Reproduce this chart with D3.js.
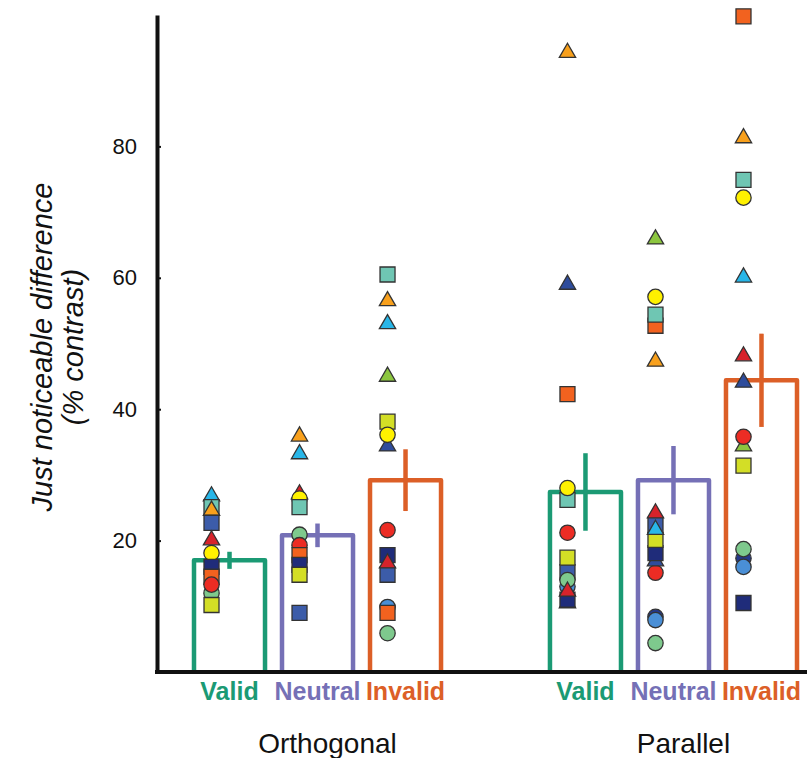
<!DOCTYPE html>
<meta charset="utf-8">
<style>
body {
  margin: 0;
  background: #fff;
  font-family: "Liberation Sans", Arial, sans-serif;
}
.axis text {
  font-size: 22px;
  fill: #111;
}
.ylabel {
  font-size: 29px;
  font-style: italic;
  fill: #111;
}
.cond {
  font-size: 25px;
  font-weight: bold;
}
.group {
  font-size: 28px;
  fill: #111;
}
</style>
<body></body>
<script src="https://d3js.org/d3.v7.min.js"></script>
<script>
var groups = ["Orthogonal", "Parallel"];
var conditions = ["Valid", "Neutral", "Invalid"];
var yTicks = [20, 40, 60, 80];

// bar heights and error (+/-), order: Orthogonal V N I, Parallel V N I
var means = [17.0, 20.8, 29.2, 27.4, 29.2, 44.4];
var errors = [1.3, 1.8, 4.7, 5.9, 5.2, 7.1];

// observers: T = triangle, S = square, C = circle
var orthValid = [["T1", 27.0], ["S1", 25.1], ["T2", 24.8], ["S2", 22.7], ["T3", 20.3],
  ["C1", 18.1], ["S3", 16.0], ["C3", 12.0], ["S4", 14.5], ["C2", 13.3], ["S5", 10.2]];
var orthNeutral = [["T2", 36.1], ["T1", 33.4], ["T3", 27.3], ["C1", 26.4], ["S1", 25.1],
  ["C3", 20.9], ["C2", 19.3], ["S4", 17.8], ["S3", 16.3], ["S5", 14.8], ["S2", 9.0]];
var orthInvalid = [["S1", 60.5], ["T2", 56.7], ["T1", 53.2], ["T5", 45.2], ["T4", 34.6],
  ["S5", 38.1], ["C1", 36.1], ["C2", 21.6], ["S2", 14.8], ["S3", 17.8], ["T3", 16.8],
  ["C4", 9.9], ["S4", 9.0], ["C3", 5.9]];
var parValid = [["T2", 94.5], ["T4", 59.2], ["S4", 42.3], ["S1", 26.2], ["C1", 28.0],
  ["C2", 21.2], ["T5", 10.7], ["S3", 11.0], ["C4", 13.0], ["S2", 15.2], ["C3", 14.0],
  ["S5", 17.4], ["T3", 12.5]];
var parNeutral = [["T5", 66.1], ["C1", 57.1], ["S4", 52.7], ["S1", 54.4], ["T2", 47.5],
  ["C2", 15.1], ["T4", 17.1], ["S3", 18.1], ["S5", 20.1], ["S2", 22.4], ["T1", 21.9],
  ["T3", 24.4], ["C3", 4.4], ["C5", 8.4], ["C4", 7.9]];
var parInvalid = [["S4", 99.8], ["T2", 81.5], ["C1", 72.2], ["S1", 74.9], ["T1", 60.3],
  ["T3", 48.3], ["T4", 44.3], ["T5", 34.6], ["C2", 35.8], ["S5", 31.4], ["C5", 17.3],
  ["C4", 16.0], ["C3", 18.7], ["S3", 10.5]];

var points = [orthValid, orthNeutral, orthInvalid, parValid, parNeutral, parInvalid];

var barColor = { Valid: "#1b9a74", Neutral: "#7570b6", Invalid: "#dc5f27" };

var observerStyle = {
  T1: ["triangle", "#28b6e8"], T2: ["triangle", "#f8a01c"], T3: ["triangle", "#d7232b"],
  T4: ["triangle", "#2e4c9c"], T5: ["triangle", "#8cc63f"],
  S1: ["square", "#6fc6b3"], S2: ["square", "#3c5ca9"], S3: ["square", "#1f2c7a"],
  S4: ["square", "#f2621f"], S5: ["square", "#d3de26"],
  C1: ["circle", "#fff100"], C2: ["circle", "#ec2c24"], C3: ["circle", "#7ec98d"],
  C4: ["circle", "#4a8fd6"], C5: ["circle", "#24388a"]
};

var width = 807, height = 758;

var svg = d3.select("body")
  .append("svg")
    .attr("width", width)
    .attr("height", height);

var y = d3.scaleLinear()
  .domain([0, 100])
  .range([672, 15]);

var xGroup = d3.scaleBand()
  .domain(groups)
  .range([194, 797])
  .paddingInner(0.306)
  .paddingOuter(0);

var xCond = d3.scaleBand()
  .domain(conditions)
  .range([0, xGroup.bandwidth()])
  .paddingInner(0.193)
  .paddingOuter(0);

var bars = [];
groups.forEach(function(g, gi) {
  conditions.forEach(function(c, ci) {
    var i = gi * 3 + ci;
    bars.push({ group: g, cond: c, mean: means[i], err: errors[i], pts: points[i] });
  });
});

function barLeft(d) { return xGroup(d.group) + xCond(d.cond); }
function barMid(d) { return barLeft(d) + xCond.bandwidth() / 2; }

// y axis
var yAxis = d3.axisLeft(y)
  .tickValues(yTicks)
  .tickSizeInner(-4)
  .tickSizeOuter(0)
  .tickPadding(20);

var ya = svg.append("g")
  .attr("class", "axis")
  .attr("transform", "translate(157,0)")
  .call(yAxis);
ya.select(".domain").attr("stroke", "#111").attr("stroke-width", 4);
ya.selectAll(".tick line").attr("stroke", "#111").attr("stroke-width", 2);

// bars (open, no bottom edge)
var barG = svg.selectAll("g.bar")
  .data(bars)
  .enter().append("g")
  .attr("class", "bar");

barG.append("path")
  .attr("d", function(d) {
    var x0 = barLeft(d), x1 = x0 + xCond.bandwidth();
    return "M" + x0 + "," + y(0) + "V" + y(d.mean) + "H" + x1 + "V" + y(0);
  })
  .attr("fill", "none")
  .attr("stroke", function(d) { return barColor[d.cond]; })
  .attr("stroke-width", 4.5)
  .attr("stroke-linejoin", "round");

barG.append("line")
  .attr("x1", barMid).attr("x2", barMid)
  .attr("y1", function(d) { return y(d.mean + d.err); })
  .attr("y2", function(d) { return y(d.mean - d.err); })
  .attr("stroke", function(d) { return barColor[d.cond]; })
  .attr("stroke-width", 4.5);

// x axis baseline
svg.append("line")
  .attr("x1", 155).attr("x2", width)
  .attr("y1", y(0)).attr("y2", y(0))
  .attr("stroke", "#111")
  .attr("stroke-width", 4);

// observer markers
var symbolType = {
  triangle: d3.symbol().type(d3.symbolTriangle).size(115),
  square: d3.symbol().type(d3.symbolSquare).size(225),
  circle: d3.symbol().type(d3.symbolCircle).size(185)
};

barG.each(function(b) {
  d3.select(this).selectAll("path.pt")
    .data(b.pts)
    .enter().append("path")
    .attr("class", "pt")
    .attr("d", function(d) { return symbolType[observerStyle[d[0]][0]](); })
    .attr("transform", function(d) {
      var dy = observerStyle[d[0]][0] == "triangle" ? 1.5 : 0;
      return "translate(" + (barMid(b) - 18) + "," + (y(d[1]) + dy) + ")";
    })
    .attr("fill", function(d) { return observerStyle[d[0]][1]; })
    .attr("stroke", "#333")
    .attr("stroke-width", 1.3);
});

// condition labels
svg.selectAll("text.cond")
  .data(bars)
  .enter().append("text")
  .attr("class", "cond")
  .attr("x", barMid)
  .attr("y", 700)
  .attr("text-anchor", "middle")
  .attr("fill", function(d) { return barColor[d.cond]; })
  .text(function(d) { return d.cond; });

// group labels
svg.selectAll("text.group")
  .data(groups)
  .enter().append("text")
  .attr("class", "group")
  .attr("x", function(d) { return xGroup(d) + xGroup.bandwidth() / 2 + 10; })
  .attr("y", 753)
  .attr("text-anchor", "middle")
  .text(function(d) { return d; });

// y label
var yl = svg.append("text")
  .attr("class", "ylabel")
  .attr("transform", "translate(52,347) rotate(-90)")
  .attr("text-anchor", "middle");
yl.append("tspan").attr("x", 0).attr("y", 0).text("Just noticeable difference");
yl.append("tspan").attr("x", 0).attr("y", 31).text("(% contrast)");
</script>
